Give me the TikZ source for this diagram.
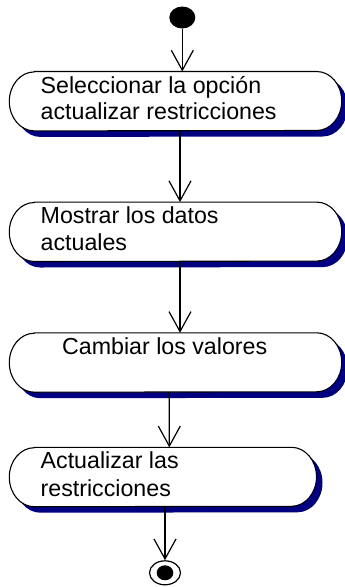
\documentclass[tikz,border=0pt]{standalone}
\usepackage{fontspec}
\setmainfont{Liberation Sans}
\usetikzlibrary{arrows.meta,shapes.geometric}
\definecolor{navy}{RGB}{0,0,128}
\tikzset{
  actbox/.style={rectangle, minimum height=59pt, inner sep=0pt, draw=none},
  lbl/.style={anchor=base west, inner sep=0pt, font=\fontsize{23.2}{27}\selectfont},
  arr/.style={line width=1.2pt, -{Straight Barb[length=20pt,width=22pt,line width=1.2pt]}},
  outl/.style={line width=1.1pt, draw=black, fill=white},
  shad/.style={fill=navy}
}
\newcommand\actshape[1]{%
  \fill[shad] ([shift={(31pt,-6pt)}]#1.north west) -- ([shift={(-19pt,-6pt)}]#1.north east)
    arc[start angle=90,end angle=-90,x radius=25pt,y radius=29.5pt]
    -- ([shift={(31pt,-6pt)}]#1.south west)
    arc[start angle=270,end angle=90,x radius=25pt,y radius=29.5pt] -- cycle;
  \path[outl] ([xshift=25pt]#1.north west) -- ([xshift=-25pt]#1.north east)
    arc[start angle=90,end angle=-90,x radius=25pt,y radius=29.5pt]
    -- ([xshift=25pt]#1.south west)
    arc[start angle=270,end angle=90,x radius=25pt,y radius=29.5pt] -- cycle;
}
\begin{document}
\begin{tikzpicture}[x=1pt,y=-1pt]
\useasboundingbox (0,0) rectangle (345,587);
% boxes
\node[actbox, minimum width=332pt] (b1) at (175.5,101.2) {};
\node[actbox, minimum width=332pt] (b2) at (175.5,231.8) {};
\node[actbox, minimum width=332pt] (b3) at (175.5,362.5) {};
\node[actbox, minimum width=306.8pt] (b4) at (162.9,477) {};
\actshape{b1}
\actshape{b2}
\actshape{b3}
\actshape{b4}
% labels
\node[lbl] (t1a) at (40.5,93.3) {Seleccionar la opción};
\node[lbl] (t1b) at (40.5,119.8) {actualizar restricciones};
\node[lbl] (t2a) at (40.5,223.5) {Mostrar los datos};
\node[lbl] (t2b) at (40.5,250.3) {actuales};
\node[lbl] (t3a) at (62,354.3) {Cambiar los valores};
\node[lbl] (t4a) at (40.5,468.3) {Actualizar las};
\node[lbl] (t4b) at (40.5,496) {restricciones};
% start and end
\node[ellipse, fill=black, minimum width=26pt, minimum height=22pt, inner sep=0pt] (start) at (182.3,17.5) {};
\node[ellipse, draw=black, line width=1.2pt, minimum width=31pt, minimum height=24pt, inner sep=0pt] (end) at (165,572.8) {};
\node[ellipse, fill=black, minimum width=16.6pt, minimum height=15pt, inner sep=0pt] (endin) at (end) {};
% connectors
\draw[arr] (start.south) -- (start.south |- b1.north);
\draw[arr] ([xshift=4.5pt]b1.south) -- ([xshift=4.5pt]b2.north);
\draw[arr] ([xshift=4.5pt]b2.south) -- ([xshift=4.5pt]b3.north);
\draw[arr] ([xshift=-6.2pt]b3.south) -- ([xshift=6.4pt]b4.north);
\draw[arr] ([xshift=2.1pt]b4.south) -- (end.north);
\end{tikzpicture}
\end{document}
